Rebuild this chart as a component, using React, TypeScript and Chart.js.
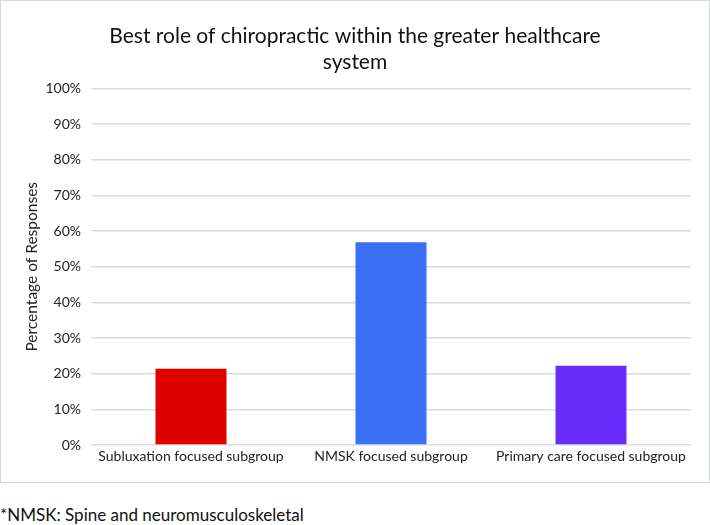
import React, { useEffect, useRef } from "react";
import { Chart, registerables } from "chart.js";

Chart.register(...registerables);

const categories = [
  "Subluxation focused subgroup",
  "NMSK focused subgroup",
  "Primary care focused subgroup",
];
const values = [21.4, 56.9, 22.2];
const barColors = ["#e00000", "#3b6ff6", "#6a2cfa"];
const yTicks = [0, 10, 20, 30, 40, 50, 60, 70, 80, 90, 100];
const titleLines = ["Best role of chiropractic within the greater healthcare", "system"];
const yTitle = "Percentage of Responses";
const footnote = "*NMSK: Spine and neuromusculoskeletal";

const FONT = "Lato, 'Open Sans', sans-serif";

export default function App() {
  const ref = useRef<HTMLCanvasElement | null>(null);

  useEffect(() => {
    if (!ref.current) return;
    const chart = new Chart(ref.current, {
      type: "bar",
      data: {
        labels: categories,
        datasets: [
          {
            data: values,
            backgroundColor: barColors,
            borderWidth: 0,
            categoryPercentage: 1,
            barPercentage: 0.355,
          },
        ],
      },
      options: {
        animation: false,
        responsive: false,
        maintainAspectRatio: false,
        layout: { padding: { left: 0, right: 0, top: 0, bottom: 0 } },
        plugins: {
          legend: { display: false },
          tooltip: { enabled: false },
          title: {
            display: true,
            text: titleLines,
            color: "#111",
            font: { family: FONT, size: 21, weight: "normal", lineHeight: 1.25 },
            padding: { top: 22, bottom: 13 },
          },
        },
        scales: {
          x: {
            grid: { display: false },
            border: { display: false },
            afterFit: (scale: any) => {
              scale.height = 37;
            },
            ticks: {
              color: "#222",
              font: { family: FONT, size: 14 },
              padding: -5,
              maxRotation: 0,
              autoSkip: false,
            },
          },
          y: {
            min: 0,
            max: 100,
            afterBuildTicks: (scale: any) => {
              scale.ticks = yTicks.map((v) => ({ value: v }));
            },
            afterFit: (scale: any) => {
              scale.width = 90;
            },
            grid: { color: "#d9dcdc", lineWidth: 1.5, drawTicks: false },
            border: { display: false },
            ticks: {
              color: "#222",
              font: { family: FONT, size: 14 },
              padding: 10,
              callback: (v: any) => v + "%",
            },
            title: {
              display: true,
              text: yTitle,
              color: "#222",
              font: { family: FONT, size: 15.5 },
              padding: { top: 22, bottom: 10 },
            },
          },
          yRight: {
            position: "right",
            min: 0,
            max: 100,
            grid: { display: false },
            border: { display: false },
            ticks: { display: false },
            afterFit: (scale: any) => {
              scale.width = 18;
            },
          },
        },
      },
    });
    return () => chart.destroy();
  }, []);

  return (
    <div
      style={{
        position: "fixed",
        left: 0,
        top: 0,
        width: 710,
        height: 525,
        background: "#fff",
        fontFamily: FONT,
      }}
    >
      <div
        style={{
          position: "absolute",
          left: 0,
          top: 0,
          width: 708,
          height: 481,
          border: "1px solid #d4dada",
        }}
      >
        <canvas ref={ref} width={708} height={481} style={{ display: "block" }} />
      </div>
      <div
        style={{
          position: "absolute",
          left: 0,
          top: 504,
          fontSize: 17,
          color: "#111",
          whiteSpace: "nowrap",
        }}
      >
        {footnote}
      </div>
    </div>
  );
}
